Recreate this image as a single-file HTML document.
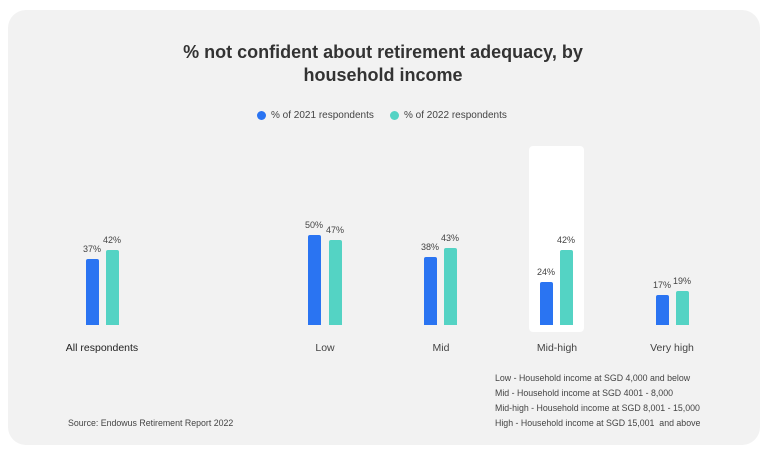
<!DOCTYPE html>
<html><head><style>
body{margin:0;background:#fff;width:768px;height:450px;position:relative;font-family:"Liberation Sans",sans-serif;color:#333;overflow:hidden}
.card{position:absolute;left:8px;top:10px;width:752px;height:435px;background:#f2f2f2;border-radius:18px}
.a{position:absolute;white-space:nowrap}
.b{position:absolute;width:13px;border-radius:2px 2px 0 0}
.bl{background:#2a74f2}.tl{background:#54d3c4}
.v{position:absolute;font-size:9px;color:#444;width:30px;text-align:center}
.lab{position:absolute;font-size:10.5px;color:#444;top:342px;transform:translateX(-50%)}
.fn{position:absolute;left:495px;font-size:8.8px;color:#444}
</style></head><body>
<div class="card"></div>
<div class="a" style="left:0;width:766px;text-align:center;top:41px;font-size:18px;font-weight:bold;line-height:23px;color:#333">% not confident about retirement adequacy, by<br>household income</div>
<div class="a" style="left:257px;top:111px;width:9px;height:9px;border-radius:50%;background:#2a74f2"></div>
<div class="a" style="left:271px;top:110px;font-size:10px;color:#444">% of 2021 respondents</div>
<div class="a" style="left:390px;top:111px;width:9px;height:9px;border-radius:50%;background:#54d3c4"></div>
<div class="a" style="left:404px;top:110px;font-size:10px;color:#444">% of 2022 respondents</div>
<div class="a" style="left:529px;top:146px;width:55px;height:186px;background:#fff;border-radius:4px"></div>

<div class="b bl" style="left:86px;top:259px;height:66px"></div><div class="v" style="left:77px;top:244px">37%</div>
<div class="b tl" style="left:106px;top:250px;height:75px"></div><div class="v" style="left:97px;top:235px">42%</div>
<div class="b bl" style="left:308px;top:235px;height:90px"></div><div class="v" style="left:299px;top:220px">50%</div>
<div class="b tl" style="left:329px;top:240px;height:85px"></div><div class="v" style="left:320px;top:225px">47%</div>
<div class="b bl" style="left:424px;top:257px;height:68px"></div><div class="v" style="left:415px;top:242px">38%</div>
<div class="b tl" style="left:444px;top:248px;height:77px"></div><div class="v" style="left:435px;top:233px">43%</div>
<div class="b bl" style="left:540px;top:282px;height:43px"></div><div class="v" style="left:531px;top:267px">24%</div>
<div class="b tl" style="left:560px;top:250px;height:75px"></div><div class="v" style="left:551px;top:235px">42%</div>
<div class="b bl" style="left:656px;top:295px;height:30px"></div><div class="v" style="left:647px;top:280px">17%</div>
<div class="b tl" style="left:676px;top:291px;height:34px"></div><div class="v" style="left:667px;top:276px">19%</div>

<div class="lab" style="left:102px;color:#222">All respondents</div>
<div class="lab" style="left:325px">Low</div>
<div class="lab" style="left:441px">Mid</div>
<div class="lab" style="left:557px">Mid-high</div>
<div class="lab" style="left:672px">Very high</div>

<div class="fn" style="top:373px">Low - Household income at SGD 4,000 and below</div>
<div class="fn" style="top:388px">Mid - Household income at SGD 4001 - 8,000</div>
<div class="fn" style="top:403px">Mid-high - Household income at SGD 8,001 - 15,000</div>
<div class="fn" style="top:418px">High - Household income at SGD 15,001 &nbsp;and above</div>
<div class="a" style="left:68px;top:418px;font-size:8.8px;color:#444">Source: Endowus Retirement Report 2022</div>
</body></html>
